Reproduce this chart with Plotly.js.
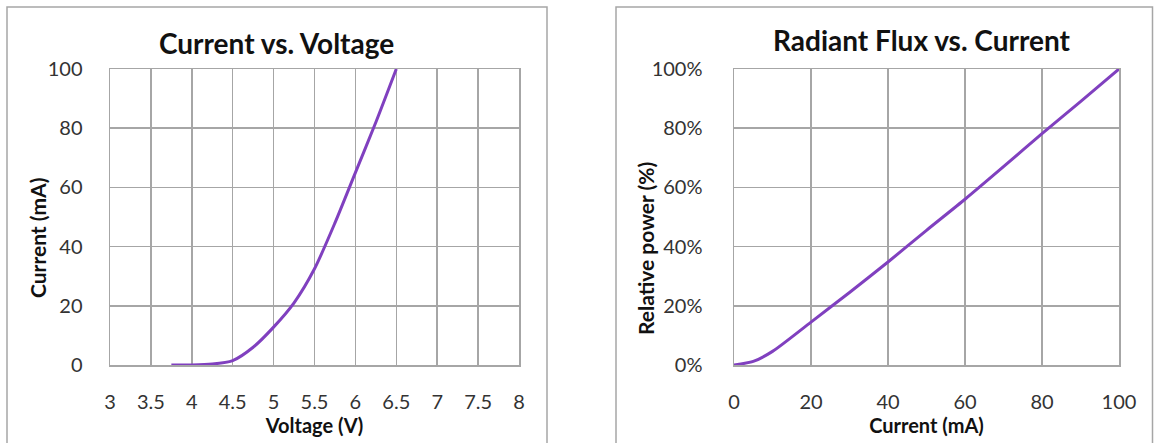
<!DOCTYPE html>
<html>
<head>
<meta charset="utf-8">
<script src="https://cdn.plot.ly/plotly-3.0.1.min.js"></script>
<style>
  html, body { margin: 0; padding: 0; background: #fff; }
  #chart { width: 1154px; height: 443px; }
</style>
</head>
<body>
<div id="chart"></div>
<script>
// Left chart: Current vs. Voltage
const voltage = [3.75, 4.0, 4.25, 4.5, 4.75, 5.0, 5.25, 5.5, 5.75, 6.0, 6.25, 6.5];
const currentIV = [0, 0, 0.3, 1.5, 6, 12.8, 21, 32.5, 48, 65, 82, 100];

// Right chart: Radiant Flux vs. Current
const currentMA = [0, 5, 10, 20, 30, 40, 50, 60, 70, 80, 90, 100];
const relPower = [0, 1.2, 4.6, 14.5, 24.5, 34.8, 45.5, 56, 67, 78.2, 89, 100];

const voltTicks = [3, 3.5, 4, 4.5, 5, 5.5, 6, 6.5, 7, 7.5, 8];
const voltTickText = ["3", "3.5", "4", "4.5", "5", "5.5", "6", "6.5", "7", "7.5", "8"];

const W = 1154, H = 443;
const px = v => v / W;
const py = v => 1 - v / H;

const lineColor = '#8040bf';
const gridColor = '#a6a6a6';
const fontFam = 'Lato, "Open Sans", sans-serif';
const tickFont = {family: fontFam, size: 20, color: '#333333'};
const axTitleFont = {family: fontFam, size: 20, color: '#111111', weight: 'bold'};

const traces = [
  {x: voltage, y: currentIV, type: 'scatter', mode: 'lines', xaxis: 'x', yaxis: 'y',
   line: {color: lineColor, width: 3, shape: 'spline', smoothing: 0.7}, showlegend: false, hoverinfo: 'x+y'},
  {x: currentMA, y: relPower, type: 'scatter', mode: 'lines', xaxis: 'x2', yaxis: 'y2',
   line: {color: lineColor, width: 3, shape: 'spline', smoothing: 0.7}, showlegend: false, hoverinfo: 'x+y'}
];

const commonAxis = {
  showgrid: true, gridcolor: gridColor, gridwidth: 1.5,
  showline: true, linecolor: gridColor, linewidth: 1.5, mirror: true,
  zeroline: false, ticks: 'outside', tickcolor: 'rgba(0,0,0,0)',
  tickfont: tickFont, automargin: false, fixedrange: true
};

const layout = {
  width: W, height: H,
  margin: {l: 0, r: 0, t: 0, b: 0},
  paper_bgcolor: '#ffffff', plot_bgcolor: '#ffffff',
  showlegend: false,
  xaxis: Object.assign({}, commonAxis, {
    domain: [px(110), px(519)], anchor: 'y', range: [3, 8],
    tickmode: 'array', tickvals: voltTicks, ticktext: voltTickText, ticklen: 18,
    title: {text: 'Voltage (V)', font: axTitleFont, standoff: 5}
  }),
  yaxis: Object.assign({}, commonAxis, {
    domain: [1 - 365 / H, 1 - 69 / H], anchor: 'x', range: [0, 100],
    tickmode: 'linear', tick0: 0, dtick: 20, ticklen: 22
  }),
  xaxis2: Object.assign({}, commonAxis, {
    domain: [px(734), px(1119)], anchor: 'y2', range: [0, 100],
    tickmode: 'linear', tick0: 0, dtick: 20, ticklen: 18,
    title: {text: 'Current (mA)', font: axTitleFont, standoff: 5}
  }),
  yaxis2: Object.assign({}, commonAxis, {
    domain: [1 - 365 / H, 1 - 69 / H], anchor: 'x2', range: [0, 100],
    tickmode: 'linear', tick0: 0, dtick: 20, ticklen: 26, ticksuffix: '%'
  }),
  annotations: [
    {text: '<b>Current vs. Voltage</b>', xref: 'paper', yref: 'paper', x: px(276), y: py(43),
     xanchor: 'center', yanchor: 'middle', showarrow: false,
     font: {family: fontFam, size: 28, color: '#111111'}},
    {text: '<b>Radiant Flux vs. Current</b>', xref: 'paper', yref: 'paper', x: px(921), y: py(40),
     xanchor: 'center', yanchor: 'middle', showarrow: false,
     font: {family: fontFam, size: 28, color: '#111111'}},
    {text: '<b>Current (mA)</b>', xref: 'paper', yref: 'paper', x: px(37), y: py(238),
     xanchor: 'center', yanchor: 'middle', textangle: -90, showarrow: false,
     font: {family: fontFam, size: 21, color: '#111111'}},
    {text: '<b>Relative power (%)</b>', xref: 'paper', yref: 'paper', x: px(645), y: py(248),
     xanchor: 'center', yanchor: 'middle', textangle: -90, showarrow: false,
     font: {family: fontFam, size: 21, color: '#111111'}}
  ],
  shapes: [
    {type: 'rect', xref: 'paper', yref: 'paper', x0: px(7), x1: px(547), y0: -0.05, y1: py(7),
     line: {color: '#a6a6a6', width: 1.5}, layer: 'below'},
    {type: 'rect', xref: 'paper', yref: 'paper', x0: px(616), x1: px(1152.5), y0: -0.05, y1: py(7),
     line: {color: '#a6a6a6', width: 1.5}, layer: 'below'}
  ]
};

Plotly.newPlot('chart', traces, layout, {displayModeBar: false, staticPlot: true});
</script>
</body>
</html>
